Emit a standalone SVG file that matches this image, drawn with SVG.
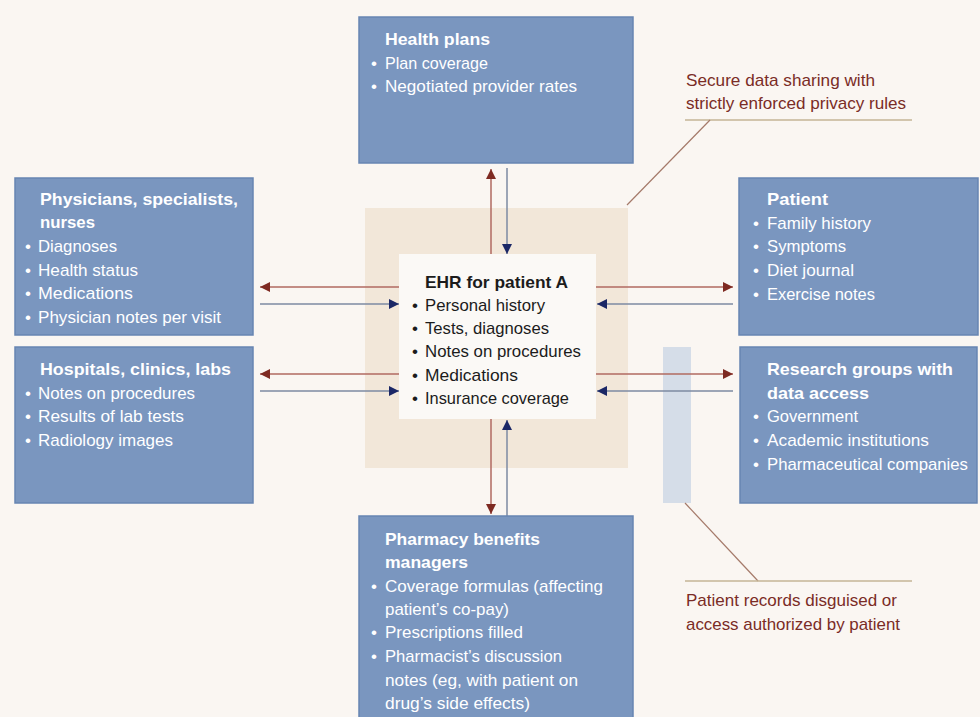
<svg xmlns="http://www.w3.org/2000/svg" width="980" height="717" viewBox="0 0 980 717">
  <style>
    .box { fill: #7a96bf; stroke: #6785b2; stroke-width: 1.5; }
    .t { font-family: "Liberation Sans Narrow", "Liberation Sans", Arial, sans-serif; font-size: 17px; fill: #ffffff; }
    .h { font-weight: 700; }
    .dark { fill: #1c1c1c; }
    .note { font-family: "Liberation Sans Narrow", "Liberation Sans", Arial, sans-serif; font-size: 17px; fill: #7a2c26; }
    .red { stroke: #b06a60; stroke-width: 1.5; fill: none; }
    .blue { stroke: #7c8aa2; stroke-width: 1.5; fill: none; }
    .lead { stroke: #a57a6a; stroke-width: 1.2; fill: none; }
    .rule { stroke: #c4b596; stroke-width: 1.5; fill: none; }
  </style>
  <defs>
    <marker id="ah-red" viewBox="0 0 10 10" refX="10" refY="5" markerWidth="10" markerHeight="10" markerUnits="userSpaceOnUse" orient="auto">
      <path d="M0,0 L10,5 L0,10 Z" fill="#7e2a22"/>
    </marker>
    <marker id="ah-blue" viewBox="0 0 10 10" refX="10" refY="5" markerWidth="10" markerHeight="10" markerUnits="userSpaceOnUse" orient="auto">
      <path d="M0,0 L10,5 L0,10 Z" fill="#1b2766"/>
    </marker>
  </defs>

  <!-- page background -->
  <rect x="0" y="0" width="980" height="717" fill="#faf6f2"/>

  <!-- shaded zone around the record -->
  <rect x="365" y="208" width="263" height="260" fill="#f2e7d9"/>
  <!-- de-identification filter bar -->
  <rect x="663" y="347" width="28" height="156" fill="#d5dde8"/>

  <!-- connectors -->
  <g id="connectors">
    <!-- health plans -->
    <line class="red" x1="491" y1="254" x2="491" y2="169" marker-end="url(#ah-red)"/>
    <line class="blue" x1="507" y1="168" x2="507" y2="254" marker-end="url(#ah-blue)"/>
    <!-- pharmacy benefits managers -->
    <line class="red" x1="491" y1="419" x2="491" y2="514" marker-end="url(#ah-red)"/>
    <line class="blue" x1="507" y1="516" x2="507" y2="420" marker-end="url(#ah-blue)"/>
    <!-- physicians -->
    <line class="red" x1="399" y1="287" x2="260" y2="287" marker-end="url(#ah-red)"/>
    <line class="blue" x1="260" y1="304" x2="399" y2="304" marker-end="url(#ah-blue)"/>
    <!-- hospitals -->
    <line class="red" x1="399" y1="374" x2="260" y2="374" marker-end="url(#ah-red)"/>
    <line class="blue" x1="260" y1="391" x2="399" y2="391" marker-end="url(#ah-blue)"/>
    <!-- patient -->
    <line class="red" x1="596" y1="287" x2="733" y2="287" marker-end="url(#ah-red)"/>
    <line class="blue" x1="733" y1="304" x2="597" y2="304" marker-end="url(#ah-blue)"/>
    <!-- research groups -->
    <line class="red" x1="596" y1="374" x2="733" y2="374" marker-end="url(#ah-red)"/>
    <line class="blue" x1="733" y1="391" x2="597" y2="391" marker-end="url(#ah-blue)"/>
  </g>

  <!-- central record -->
  <g id="ehr">
    <rect x="399" y="254" width="197" height="165" fill="#fbf9f6"/>
    <text class="t h dark" x="425" y="288" textLength="143" lengthAdjust="spacingAndGlyphs">EHR for patient A</text>
    <g class="t dark">
      <text x="412" y="311">•</text><text x="425" y="311" textLength="120" lengthAdjust="spacingAndGlyphs">Personal history</text>
      <text x="412" y="334">•</text><text x="425" y="334" textLength="124" lengthAdjust="spacingAndGlyphs">Tests, diagnoses</text>
      <text x="412" y="357">•</text><text x="425" y="357" textLength="156" lengthAdjust="spacingAndGlyphs">Notes on procedures</text>
      <text x="412" y="381">•</text><text x="425" y="381" textLength="93" lengthAdjust="spacingAndGlyphs">Medications</text>
      <text x="412" y="404">•</text><text x="425" y="404" textLength="144" lengthAdjust="spacingAndGlyphs">Insurance coverage</text>
    </g>
  </g>

  <!-- health plans -->
  <g id="health-plans">
    <rect class="box" x="359" y="17" width="274" height="146"/>
    <text class="t h" x="385" y="45" textLength="105" lengthAdjust="spacingAndGlyphs">Health plans</text>
    <text class="t" x="371" y="69">•</text><text class="t" x="385" y="69" textLength="103" lengthAdjust="spacingAndGlyphs">Plan coverage</text>
    <text class="t" x="371" y="92">•</text><text class="t" x="385" y="92" textLength="192" lengthAdjust="spacingAndGlyphs">Negotiated provider rates</text>
  </g>

  <!-- physicians -->
  <g id="physicians">
    <rect class="box" x="15" y="178" width="238" height="157"/>
    <text class="t h" x="40" y="205" textLength="198" lengthAdjust="spacingAndGlyphs">Physicians, specialists,</text>
    <text class="t h" x="40" y="228" textLength="55" lengthAdjust="spacingAndGlyphs">nurses</text>
    <text class="t" x="25" y="252">•</text><text class="t" x="38" y="252" textLength="79" lengthAdjust="spacingAndGlyphs">Diagnoses</text>
    <text class="t" x="25" y="276">•</text><text class="t" x="38" y="276" textLength="100" lengthAdjust="spacingAndGlyphs">Health status</text>
    <text class="t" x="25" y="299">•</text><text class="t" x="38" y="299" textLength="95" lengthAdjust="spacingAndGlyphs">Medications</text>
    <text class="t" x="25" y="323">•</text><text class="t" x="38" y="323" textLength="183" lengthAdjust="spacingAndGlyphs">Physician notes per visit</text>
  </g>

  <!-- hospitals -->
  <g id="hospitals">
    <rect class="box" x="15" y="347" width="238" height="156"/>
    <text class="t h" x="40" y="375" textLength="191" lengthAdjust="spacingAndGlyphs">Hospitals, clinics, labs</text>
    <text class="t" x="25" y="399">•</text><text class="t" x="38" y="399" textLength="157" lengthAdjust="spacingAndGlyphs">Notes on procedures</text>
    <text class="t" x="25" y="422">•</text><text class="t" x="38" y="422" textLength="146" lengthAdjust="spacingAndGlyphs">Results of lab tests</text>
    <text class="t" x="25" y="446">•</text><text class="t" x="38" y="446" textLength="135" lengthAdjust="spacingAndGlyphs">Radiology images</text>
  </g>

  <!-- patient -->
  <g id="patient">
    <rect class="box" x="739" y="178" width="239" height="157"/>
    <text class="t h" x="767" y="205" textLength="61" lengthAdjust="spacingAndGlyphs">Patient</text>
    <text class="t" x="753" y="229">•</text><text class="t" x="767" y="229" textLength="104" lengthAdjust="spacingAndGlyphs">Family history</text>
    <text class="t" x="753" y="252">•</text><text class="t" x="767" y="252" textLength="79" lengthAdjust="spacingAndGlyphs">Symptoms</text>
    <text class="t" x="753" y="276">•</text><text class="t" x="767" y="276" textLength="87" lengthAdjust="spacingAndGlyphs">Diet journal</text>
    <text class="t" x="753" y="300">•</text><text class="t" x="767" y="300" textLength="108" lengthAdjust="spacingAndGlyphs">Exercise notes</text>
  </g>

  <!-- research groups -->
  <g id="research">
    <rect class="box" x="740" y="347" width="237" height="156"/>
    <text class="t h" x="767" y="375" textLength="186" lengthAdjust="spacingAndGlyphs">Research groups with</text>
    <text class="t h" x="767" y="399" textLength="102" lengthAdjust="spacingAndGlyphs">data access</text>
    <text class="t" x="753" y="422">•</text><text class="t" x="767" y="422" textLength="91" lengthAdjust="spacingAndGlyphs">Government</text>
    <text class="t" x="753" y="446">•</text><text class="t" x="767" y="446" textLength="162" lengthAdjust="spacingAndGlyphs">Academic institutions</text>
    <text class="t" x="753" y="470">•</text><text class="t" x="767" y="470" textLength="201" lengthAdjust="spacingAndGlyphs">Pharmaceutical companies</text>
  </g>

  <!-- pharmacy benefits managers -->
  <g id="pharmacy">
    <rect class="box" x="359" y="516" width="274" height="205"/>
    <text class="t h" x="385" y="545" textLength="155" lengthAdjust="spacingAndGlyphs">Pharmacy benefits</text>
    <text class="t h" x="385" y="568" textLength="83" lengthAdjust="spacingAndGlyphs">managers</text>
    <text class="t" x="371" y="592">•</text><text class="t" x="385" y="592" textLength="218" lengthAdjust="spacingAndGlyphs">Coverage formulas (affecting</text>
    <text class="t" x="385" y="615" textLength="124" lengthAdjust="spacingAndGlyphs">patient’s co-pay)</text>
    <text class="t" x="371" y="638">•</text><text class="t" x="385" y="638" textLength="138" lengthAdjust="spacingAndGlyphs">Prescriptions filled</text>
    <text class="t" x="371" y="662">•</text><text class="t" x="385" y="662" textLength="177" lengthAdjust="spacingAndGlyphs">Pharmacist’s discussion</text>
    <text class="t" x="385" y="686" textLength="193" lengthAdjust="spacingAndGlyphs">notes (eg, with patient on</text>
    <text class="t" x="385" y="709" textLength="145" lengthAdjust="spacingAndGlyphs">drug’s side effects)</text>
  </g>

  <!-- callout: secure sharing -->
  <g id="note-sharing">
    <text class="note" x="686" y="86" textLength="189" lengthAdjust="spacingAndGlyphs">Secure data sharing with</text>
    <text class="note" x="686" y="109" textLength="220" lengthAdjust="spacingAndGlyphs">strictly enforced privacy rules</text>
    <line class="rule" x1="685" y1="120" x2="912" y2="120"/>
    <line class="lead" x1="710" y1="120" x2="627" y2="205"/>
  </g>

  <!-- callout: disguised records -->
  <g id="note-records">
    <line class="lead" x1="685" y1="503" x2="758" y2="581"/>
    <line class="rule" x1="685" y1="581" x2="912" y2="581"/>
    <text class="note" x="686" y="606" textLength="211" lengthAdjust="spacingAndGlyphs">Patient records disguised or</text>
    <text class="note" x="686" y="630" textLength="214" lengthAdjust="spacingAndGlyphs">access authorized by patient</text>
  </g>
</svg>
